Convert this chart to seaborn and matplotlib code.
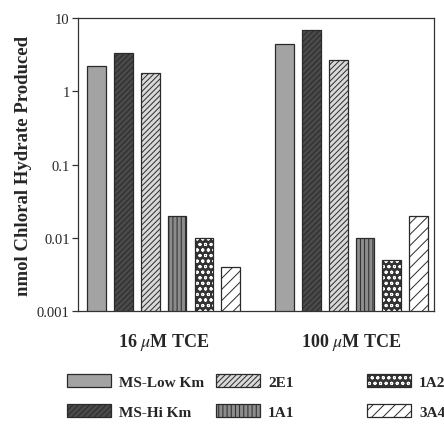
import numpy as np
import pandas as pd
import seaborn as sns
import matplotlib.pyplot as plt
from matplotlib.ticker import FixedLocator, FixedFormatter, NullLocator

# chloral hydrate produced (nmol)
conditions = ['16 $\\mu$M TCE', '100 $\\mu$M TCE']
enzymes = ['MS-Low Km', 'MS-Hi Km', '2E1', '1A1', '1A2', '3A4']
ch_16uM = [2.2, 3.4, 1.8, 0.02, 0.01, 0.004]
ch_100uM = [4.4, 7.0, 2.7, 0.01, 0.005, 0.02]
ytick_vals = [0.001, 0.01, 0.1, 1, 10]
ytick_labels = ['0.001', '0.01', '0.1', '1', '10']

fills = ['#a3a3a3', '#4a4a4a', '#d9d9d9', '#8c8c8c', '#333333', '#ffffff']
hatches = ['', '//////', '//////', '||||', 'ooo', '///']

df = pd.DataFrame({'cond': np.repeat(conditions, len(enzymes)),
                   'enzyme': enzymes * 2,
                   'val': ch_16uM + ch_100uM})

sns.set_style('ticks')
plt.rcParams['font.family'] = ['Liberation Serif', 'DejaVu Serif']
plt.rcParams['mathtext.fontset'] = 'stix'
plt.rcParams['hatch.linewidth'] = 0.7

fig = plt.figure(figsize=(4.44, 4.27), dpi=100)
ax = fig.add_axes([0.176, 0.269, 0.802, 0.686])

sns.barplot(data=df, x='cond', y='val', hue='enzyme', hue_order=enzymes,
            palette=fills, saturation=1, width=6/7, gap=0.3, errorbar=None,
            edgecolor='#2a2a2a', linewidth=0.9, legend=False, ax=ax)
ax.set_yscale('log')

for cont, h in zip(ax.containers, hatches):
    for p in cont:
        p.set_hatch(h)
# 1A2 bars: white speckles on a dark fill
for p in ax.containers[4]:
    p._hatch_color = (1, 1, 1, 1)

ax.set_ylim(0.001, 10)
ax.set_xlim(-0.455, 1.44)
ax.yaxis.set_major_locator(FixedLocator(ytick_vals))
ax.yaxis.set_major_formatter(FixedFormatter(ytick_labels))
ax.yaxis.set_minor_locator(NullLocator())
ax.tick_params(axis='y', length=4, width=0.9, pad=2, labelsize=10.5, color='#333333')
ax.tick_params(axis='x', length=0, pad=14, labelsize=13)
for t in ax.get_xticklabels():
    t.set_fontweight('bold')
for s in ax.spines.values():
    s.set_linewidth(0.9)
    s.set_color('#333333')

ax.set_xlabel('')
ax.set_ylabel('nmol Chloral Hydrate Produced', fontsize=13.5, fontweight='bold')
ax.yaxis.set_label_coords(-0.13, 0.5)

# legend: three columns of two entries each
col_x = [67, 216, 367]
for i, x in enumerate(col_x):
    leg = fig.legend(ax.containers[2*i:2*i+2], enzymes[2*i:2*i+2], loc='upper left',
                     bbox_to_anchor=(x / 444, 1 - 375 / 427), frameon=False,
                     borderpad=0, borderaxespad=0, handlelength=2.9, handleheight=0.92,
                     handletextpad=0.5, labelspacing=1.0,
                     prop={'weight': 'bold', 'size': 11})

fig.savefig('out.png', dpi=100)
